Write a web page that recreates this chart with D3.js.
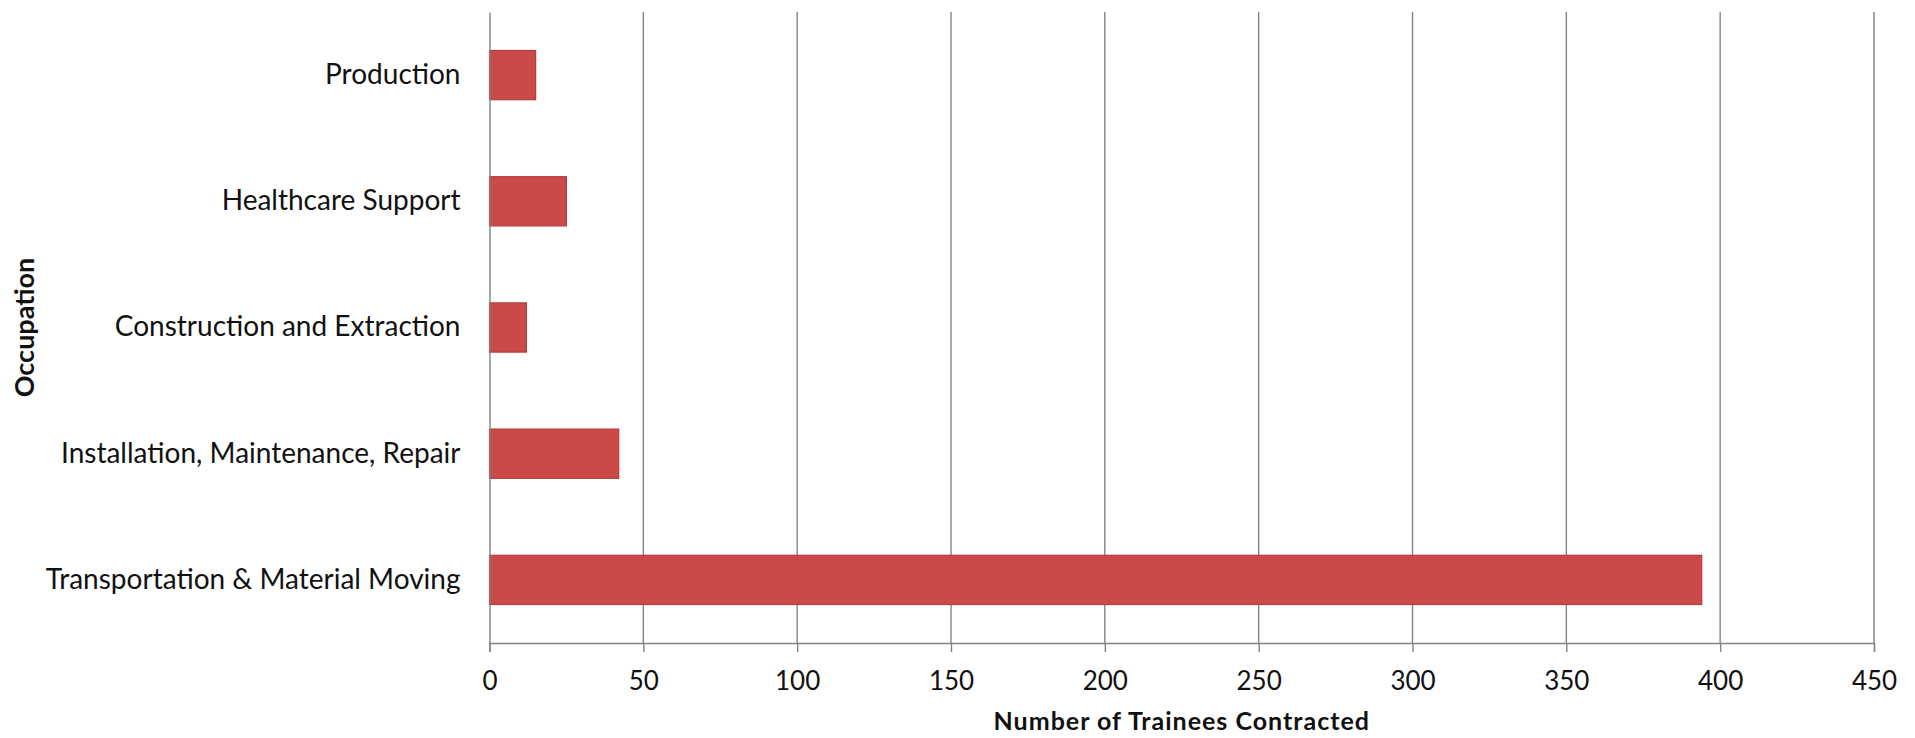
<!DOCTYPE html>
<html>
<head>
<meta charset="utf-8">
<script src="https://cdn.jsdelivr.net/npm/d3@7"></script>
<style>
  html, body { margin: 0; padding: 0; background: #ffffff; }
  svg { display: block; }
  text { font-family: Lato, "Open Sans", sans-serif; fill: #111; }
</style>
</head>
<body>
<svg id="chart" width="1915" height="738"></svg>
<script>
const categories = [
  "Production",
  "Healthcare Support",
  "Construction and Extraction",
  "Installation, Maintenance, Repair",
  "Transportation & Material Moving"
];
const values = [15, 25, 12, 42, 394];
const xTicks = [0, 50, 100, 150, 200, 250, 300, 350, 400, 450];
const xTitle = "Number of Trainees Contracted";
const yTitle = "Occupation";

const W = 1915, H = 738;
const margin = { left: 489.5, right: 41, top: 12, bottom: 95 };
const svg = d3.select("#chart");

const x = d3.scaleLinear().domain([0, 450]).range([margin.left, W - margin.right]);
const y = d3.scaleBand().domain(categories).range([margin.top, H - margin.bottom]).paddingInner(0.61).paddingOuter(0.305);

const gridColor = "#838383";

// gridlines
svg.append("g").selectAll("line").data(xTicks.slice(1)).join("line")
  .attr("x1", d => x(d)).attr("x2", d => x(d))
  .attr("y1", margin.top).attr("y2", H - margin.bottom)
  .attr("stroke", gridColor).attr("stroke-width", 1.4);

// bars
svg.append("g").selectAll("rect").data(values).join("rect")
  .attr("x", x(0))
  .attr("y", (d, i) => y(categories[i]))
  .attr("width", d => x(d) - x(0))
  .attr("height", y.bandwidth())
  .attr("fill", "#ca4949")
  .attr("stroke", "#b83c3c")
  .attr("stroke-width", 1.2);

// x axis
const xAxis = d3.axisBottom(x).tickValues(xTicks).tickSize(9).tickPadding(20).tickFormat(d3.format("d"));
const gx = svg.append("g").attr("transform", `translate(0,${H - margin.bottom})`).call(xAxis);
gx.select(".domain").attr("stroke", gridColor).attr("stroke-width", 1.4);
gx.selectAll(".tick line").attr("stroke", gridColor).attr("stroke-width", 1.4);
gx.selectAll(".tick text").attr("font-family", "Lato, sans-serif").attr("font-size", 26).attr("fill", "#111");

// y axis
const yAxis = d3.axisLeft(y).tickSize(0).tickPadding(29);
const gy = svg.append("g").attr("transform", `translate(${margin.left},0)`).call(yAxis);
gy.select(".domain").attr("stroke", gridColor).attr("stroke-width", 1.4);
gy.selectAll(".tick text").attr("font-family", "Lato, sans-serif").attr("font-size", 28).attr("fill", "#111");

// titles
svg.append("text")
  .attr("x", (x(0) + x(450)) / 2).attr("y", 730)
  .attr("text-anchor", "middle").attr("font-weight", "bold").attr("font-size", 25)
  .attr("letter-spacing", 1)
  .text(xTitle);

svg.append("text")
  .attr("transform", `translate(34,${(margin.top + H - margin.bottom) / 2}) rotate(-90)`)
  .attr("text-anchor", "middle").attr("font-weight", "bold").attr("font-size", 27)
  .text(yTitle);
</script>
</body>
</html>
